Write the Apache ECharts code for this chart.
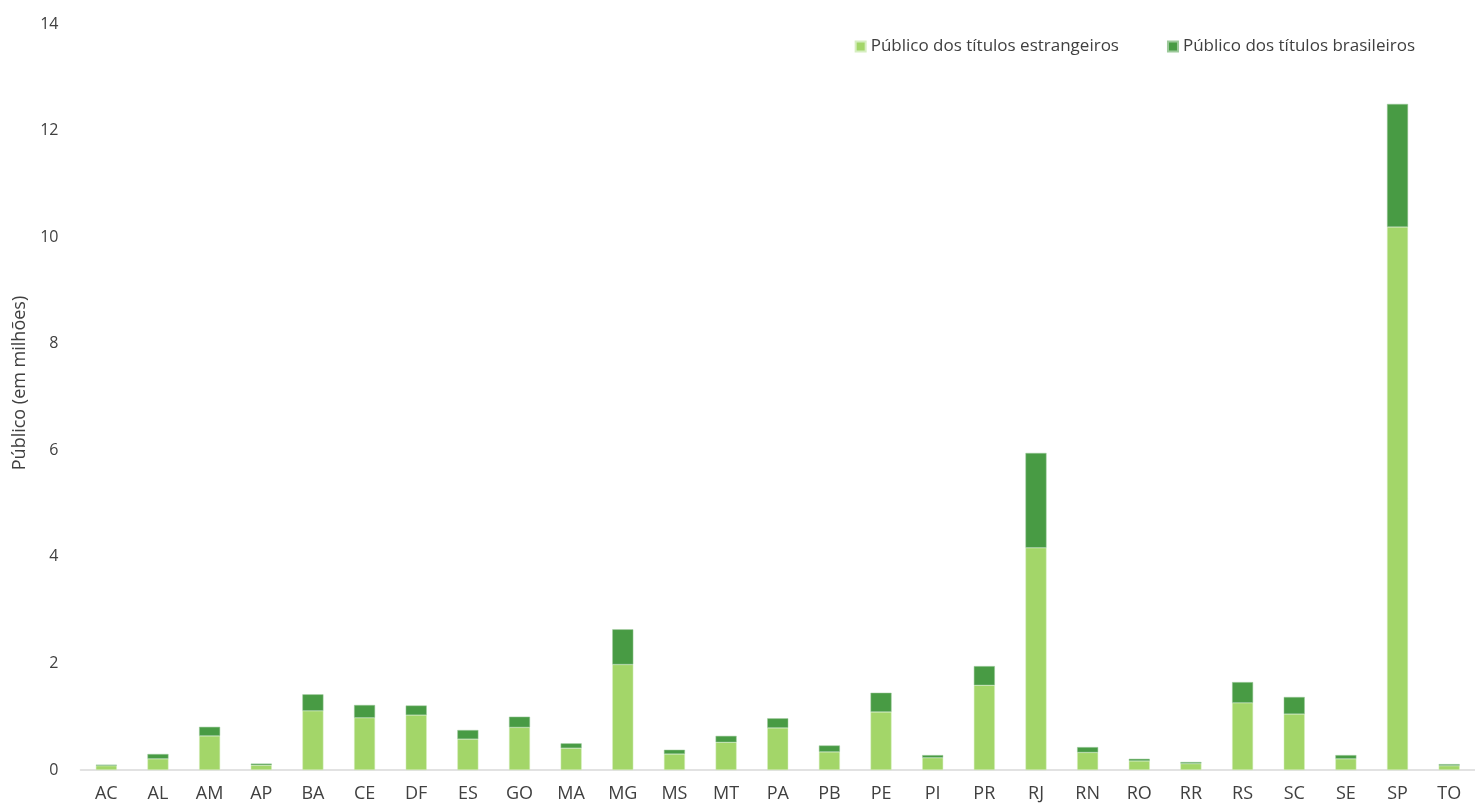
<!DOCTYPE html>
<html>
<head>
<meta charset="utf-8">
<script src="https://cdn.jsdelivr.net/npm/echarts@6/dist/echarts.min.js"></script>
<style>
html,body{margin:0;padding:0;background:#fff;}
#chart{width:1475px;height:809px;}
</style>
</head>
<body>
<div id="chart"></div>
<script>
const categories = ['AC','AL','AM','AP','BA','CE','DF','ES','GO','MA','MG','MS','MT','PA','PB','PE','PI','PR','RJ','RN','RO','RR','RS','SC','SE','SP','TO'];
const estrangeiros = [0.08,0.21,0.64,0.09,1.11,0.98,1.03,0.58,0.80,0.41,1.98,0.30,0.52,0.79,0.34,1.09,0.23,1.59,4.17,0.33,0.17,0.12,1.26,1.05,0.21,10.19,0.08];
const brasileiros  = [0.02,0.09,0.17,0.03,0.31,0.24,0.18,0.17,0.20,0.09,0.66,0.08,0.12,0.18,0.12,0.36,0.05,0.36,1.78,0.10,0.04,0.03,0.39,0.32,0.07,2.31,0.03];
const seriesNames = ['Público dos títulos estrangeiros','Público dos títulos brasileiros'];
const yAxisName = 'Público (em milhões)';

const font = "'Open Sans', 'Noto Sans', sans-serif";
const chart = echarts.init(document.getElementById('chart'));
chart.setOption({
  animation:false,
  textStyle:{fontFamily:font},
  legend:{
    top:33, right:55,
    itemWidth:10, itemHeight:10, itemGap:48,
    icon:'rect',
    textStyle:{fontSize:17, color:'#404040', fontFamily:font},
    data:seriesNames
  },
  grid:{left:80.5, width:1402.4, top:24, bottom:39, containLabel:false},
  xAxis:{
    type:'category', data:categories,
    axisLine:{lineStyle:{color:'#d9d9d9', width:1.5}},
    axisTick:{show:false},
    axisLabel:{fontSize:18, color:'#404040', margin:15, fontFamily:font}
  },
  yAxis:{
    type:'value', min:0, max:14, interval:2,
    name:yAxisName, nameLocation:'middle', nameGap:43, nameRotate:90,
    nameTextStyle:{fontSize:18, color:'#404040', fontFamily:font, padding:[0,0,0,28]},
    axisLine:{show:false}, axisTick:{show:false},
    splitLine:{show:false},
    axisLabel:{fontSize:16, color:'#404040', margin:22, fontFamily:font}
  },
  series:[
    {name:seriesNames[0], type:'bar', stack:'total', data:estrangeiros, barWidth:21,
     itemStyle:{color:'#A3D669', borderColor:'#d6eec0', borderWidth:0.5}},
    {name:seriesNames[1], type:'bar', stack:'total', data:brasileiros, barWidth:21,
     itemStyle:{color:'#489B44', borderColor:'#9cc99a', borderWidth:0.5}}
  ]
});
</script>
</body>
</html>
